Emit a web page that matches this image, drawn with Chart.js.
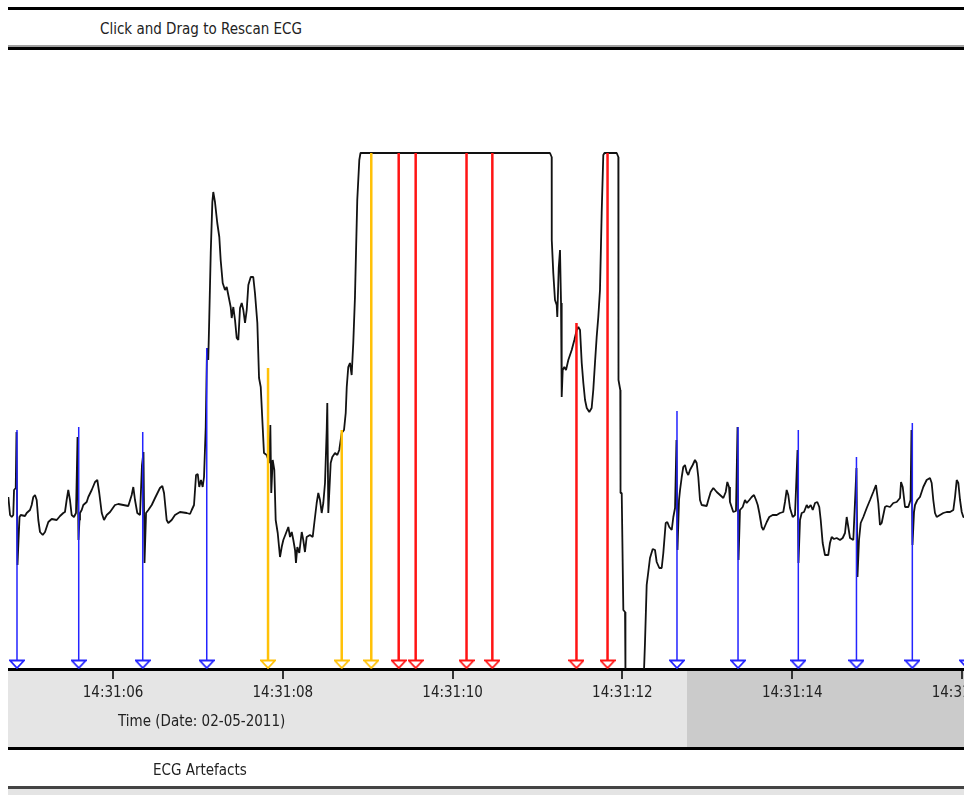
<!DOCTYPE html>
<html>
<head>
<meta charset="utf-8">
<title>ECG Rescan</title>
<script src="https://cdn.jsdelivr.net/npm/chart.js@4.4.1/dist/chart.umd.min.js"></script>
<style>
  html, body { margin: 0; padding: 0; background: #fff; overflow: hidden; }
  body { width: 964px; height: 795px; position: relative; font-family: "DejaVu Sans Condensed", "DejaVu Sans", sans-serif; font-size: 15px; color: #222; }
  .rule { position: absolute; left: 8px; right: 0; background: #000; }
  .label { position: absolute; white-space: nowrap; line-height: 18px; }
  #plot { position: absolute; left: 8px; top: 50px; width: 956px; height: 697px; overflow: hidden; }
</style>
</head>
<body>
<div class="rule" style="top:7px;height:3px"></div>
<div class="label" style="left:100px;top:20px">Click and Drag to Rescan ECG</div>
<div class="rule" style="top:45px;height:2px;background:#a0a0a0"></div>
<div class="rule" style="top:47px;height:3px"></div>
<div id="plot"><canvas id="ecg" width="1000" height="697"></canvas></div>
<div class="label" style="left:118px;top:712px">Time (Date: 02-05-2011)</div>
<div class="rule" style="top:747px;height:3px"></div>
<div class="label" style="left:153px;top:761px">ECG Artefacts</div>
<div class="rule" style="top:786px;height:3px;background:#444"></div>
<div class="rule" style="top:789px;height:6px;background:#e4e4e4"></div>

<script>
// seconds past 14:31:00
const ecgTime = [
  4.767, 4.787, 4.807, 4.825, 4.834, 4.854, 4.863, 4.875, 4.887, 4.899, 4.913, 4.963, 4.983, 5.022, 5.042, 5.061,
  5.081, 5.101, 5.120, 5.140, 5.172, 5.199, 5.238, 5.278, 5.337, 5.376, 5.414, 5.434, 5.454, 5.473, 5.493, 5.513,
  5.540, 5.564, 5.582, 5.593, 5.605, 5.611, 5.631, 5.650, 5.690, 5.709, 5.749, 5.788, 5.815, 5.838, 5.867, 5.894,
  5.926, 5.965, 6.023, 6.062, 6.180, 6.220, 6.239, 6.259, 6.286, 6.318, 6.341, 6.359, 6.371, 6.383, 6.389, 6.416,
  6.456, 6.495, 6.553, 6.581, 6.601, 6.632, 6.651, 6.691, 6.730, 6.789, 6.868, 6.907, 6.927, 6.954, 6.978, 6.998,
  7.016, 7.036, 7.056, 7.072, 7.092, 7.107, 7.122, 7.134, 7.151, 7.170, 7.181, 7.201, 7.228, 7.252, 7.268, 7.292,
  7.319, 7.339, 7.358, 7.386, 7.398, 7.417, 7.437, 7.457, 7.476, 7.496, 7.516, 7.535, 7.555, 7.575, 7.594, 7.622,
  7.652, 7.672, 7.700, 7.720, 7.740, 7.763, 7.778, 7.810, 7.841, 7.853, 7.864, 7.881, 7.900, 7.916, 7.940, 7.967,
  7.987, 8.006, 8.038, 8.065, 8.085, 8.105, 8.124, 8.144, 8.155, 8.171, 8.194, 8.223, 8.241, 8.261, 8.281, 8.320,
  8.352, 8.371, 8.399, 8.418, 8.438, 8.458, 8.477, 8.497, 8.517, 8.524, 8.536, 8.564, 8.583, 8.615, 8.642, 8.665,
  8.694, 8.721, 8.741, 8.753, 8.771, 8.791, 8.811, 8.830, 8.850, 8.862, 8.877, 8.901, 8.915,
  11.147, 11.167, 11.168, 11.186, 11.206, 11.226, 11.233, 11.250, 11.265, 11.277, 11.285, 11.297, 11.316, 11.336,
  11.363, 11.403, 11.434, 11.462, 11.481, 11.501, 11.521, 11.540, 11.560, 11.580, 11.610, 11.638, 11.657, 11.677,
  11.697, 11.716, 11.736, 11.756, 11.775, 11.789, 11.933, 11.952, 11.954, 11.975, 11.978, 11.992, 12.011, 12.031,
  12.036, 12.090, 12.207, 12.254, 12.266, 12.286, 12.305, 12.325, 12.357, 12.384, 12.404, 12.435, 12.463, 12.482,
  12.510, 12.529, 12.552, 12.581, 12.600, 12.620, 12.637, 12.649, 12.667, 12.679, 12.699, 12.717, 12.737, 12.757,
  12.776, 12.796, 12.828, 12.855, 12.875, 12.894, 12.914, 12.934, 12.993, 13.012, 13.040, 13.071, 13.111, 13.150,
  13.189, 13.217, 13.236, 13.256, 13.267, 13.306, 13.338, 13.356, 13.368, 13.385, 13.417, 13.444, 13.464, 13.495,
  13.523, 13.550, 13.574, 13.594, 13.613, 13.641, 13.660, 13.700, 13.730, 13.770, 13.818, 13.856, 13.895, 13.915,
  13.935, 13.954, 13.974, 14.006, 14.033, 14.063, 14.074, 14.092, 14.112, 14.139, 14.171, 14.190, 14.218, 14.242,
  14.269, 14.296, 14.319, 14.336, 14.359, 14.386, 14.425, 14.445, 14.465, 14.492, 14.524, 14.563, 14.595, 14.622,
  14.642, 14.661, 14.681, 14.720, 14.746, 14.757, 14.769, 14.787, 14.807, 14.838, 14.878, 14.917, 14.955, 14.987,
  15.014, 15.034, 15.054, 15.093, 15.113, 15.152, 15.191, 15.231, 15.270, 15.282, 15.302, 15.329, 15.368, 15.394,
  15.405, 15.417, 15.435, 15.447, 15.474, 15.505, 15.544, 15.584, 15.623, 15.643, 15.662, 15.682, 15.702, 15.741,
  15.780, 15.820, 15.859, 15.898, 15.918, 15.938, 15.957, 15.977, 15.997, 16.016, 16.047
];

// raw amplitude (ADC units, saturates at 516)
const ecgValue = [
  172, 154, 152, 154, 179, 181, 237, 104, 129, 152, 154, 153, 156, 159, 164, 172,
  174, 169, 149, 137, 134, 137, 147, 150, 149, 153, 156, 157, 169, 179, 169, 154,
  152, 156, 232, 129, 149, 156, 159, 164, 167, 172, 179, 187, 189, 176, 156, 149,
  154, 157, 164, 165, 163, 174, 182, 169, 156, 154, 204, 217, 106, 139, 156, 159,
  164, 171, 181, 183, 176, 149, 146, 149, 154, 157, 156, 155, 159, 164, 194, 195,
  182, 189, 182, 192, 242, 321, 309, 352, 416, 467, 477, 467, 446, 432, 409, 386,
  379, 382, 374, 362, 351, 362, 349, 331, 329, 361, 366, 359, 346, 359, 384, 392,
  392, 376, 346, 291, 282, 242, 216, 214, 206, 244, 176, 209, 199, 149, 136, 112,
  122, 129, 136, 142, 132, 137, 129, 119, 106, 122, 116, 137, 129, 117, 132, 134,
  132, 146, 166, 176, 169, 156, 166, 186, 239, 266, 156, 206, 212, 216, 214, 219,
  236, 239, 256, 282, 302, 306, 294, 326, 372, 416, 469, 509, 516,
  516, 512, 429, 396, 369, 364, 352, 401, 419, 366, 272, 299, 302, 299,
  309, 319, 329, 339, 342, 339, 306, 286, 269, 261, 257, 261, 279, 306,
  332, 352, 379, 456, 514, 516, 516, 512, 289, 279, 176, 176, 59, 57,
  -3, -51, -51, -3, 26, 84, 97, 111, 120, 119, 107, 101, 101, 116,
  146, 147, 142, 139, 152, 161, 229, 119, 169, 179, 192, 202, 204, 197,
  194, 199, 204, 209, 206, 192, 169, 164, 163, 169, 177, 181, 177, 174,
  171, 177, 187, 182, 167, 157, 158, 242, 109, 159, 162, 169, 166, 169,
  172, 174, 169, 164, 156, 142, 139, 147, 152, 154, 154, 156, 157, 167,
  179, 174, 161, 152, 154, 219, 106, 149, 156, 157, 164, 161, 164, 159,
  166, 167, 162, 149, 126, 114, 114, 126, 132, 130, 131, 129, 131, 136,
  152, 142, 131, 129, 179, 201, 92, 129, 146, 152, 161, 169, 177, 184,
  166, 144, 146, 162, 163, 162, 166, 167, 171, 187, 182, 162, 162, 169,
  239, 124, 157, 164, 169, 172, 182, 189, 191, 186, 169, 156, 152, 154,
  156, 157, 157, 159, 172, 189, 186, 169, 157, 152, 151
];

// beat / artefact annotations: N = detected beat, W = doubtful, A = artefact
const markerTime = [4.869, 5.596, 6.350, 7.104, 7.826, 8.694, 9.042, 9.365, 9.565, 10.164,
                    10.468, 11.459, 11.825, 12.643, 13.362, 14.072, 14.757, 15.415, 16.059];
const markerTop  = [239, 242, 237, 321, 301, 239, 516, 516, 516, 516,
                    516, 346, 516, 258, 242, 239, 212, 246, 240];
const markerKind = ['N', 'N', 'N', 'N', 'W', 'W', 'W', 'A', 'A', 'A',
                    'A', 'A', 'A', 'N', 'N', 'N', 'N', 'N', 'N'];

const viewStart = 4.763;
const viewEnd = 16.542;
const scanEnd = 12.761;   // end of the last scanned window
const MARKER_BASE = 5;

const kindColor = { N: '#2424ff', W: '#ffc107', A: '#ff1414' };
const kindWidth = { N: 1.5, W: 2.5, A: 2.5 };

// small open down-pointing triangle used at the foot of each marker
function triangle(color) {
    const c = document.createElement('canvas');
    c.width = 16;
    c.height = 10;
    const g = c.getContext('2d');
    g.beginPath();
    g.moveTo(1, 1.5);
    g.lineTo(15, 1.5);
    g.lineTo(8, 9);
    g.closePath();
    g.fillStyle = '#fff';
    g.fill();
    g.strokeStyle = color;
    g.lineWidth = 1.8;
    g.stroke();
    return c;
}
const triangles = { N: triangle(kindColor.N), W: triangle(kindColor.W), A: triangle(kindColor.A) };

// grey strip under the axis, darker after the scanned window
const scanBand = {
    id: 'scanBand',
    beforeDraw(chart) {
        const { ctx, chartArea, scales } = chart;
        const split = scales.x.getPixelForValue(scanEnd);
        const top = chartArea.bottom;
        const h = chart.height - top;
        ctx.save();
        ctx.fillStyle = '#e5e5e5';
        ctx.fillRect(0, top, split, h);
        ctx.fillStyle = '#cbcbcb';
        ctx.fillRect(split, top, chart.width - split, h);
        ctx.restore();
    }
};

const markerSets = markerTime.map((t, i) => {
    const k = markerKind[i];
    return {
        data: [{ x: t, y: markerTop[i] }, { x: t, y: MARKER_BASE }],
        borderColor: kindColor[k],
        borderWidth: kindWidth[k],
        pointStyle: triangles[k],
        pointRadius: c => c.dataIndex === 1 ? 5 : 0,
        order: 1
    };
});

const traceSet = {
    data: ecgTime.map((t, i) => ({ x: t, y: ecgValue[i] })),
    borderColor: '#121212',
    borderWidth: 1.8,
    borderJoinStyle: 'bevel',
    pointRadius: 0,
    tension: 0,
    order: 2
};

new Chart(document.getElementById('ecg'), {
    type: 'line',
    data: { datasets: [traceSet, ...markerSets] },
    plugins: [scanBand],
    options: {
        responsive: false,
        animation: false,
        events: [],
        layout: { padding: 0, autoPadding: false },
        plugins: { legend: { display: false }, tooltip: { enabled: false } },
        scales: {
            x: {
                type: 'linear',
                min: viewStart,
                max: viewEnd,
                border: { display: true, color: '#000', width: 3 },
                grid: { drawOnChartArea: false, drawTicks: true, tickLength: 10, color: '#333', lineWidth: 2 },
                ticks: {
                    stepSize: 2,
                    includeBounds: false,
                    autoSkip: false,
                    maxRotation: 0,
                    padding: 5,
                    color: '#222',
                    font: { family: 'DejaVu Sans Condensed', size: 15 },
                    callback: v => '14:31:' + String(v).padStart(2, '0')
                },
                afterFit: s => { s.height = 78; }
            },
            y: { type: 'linear', display: false, min: 0, max: 619 }
        }
    }
});
</script>
</body>
</html>
